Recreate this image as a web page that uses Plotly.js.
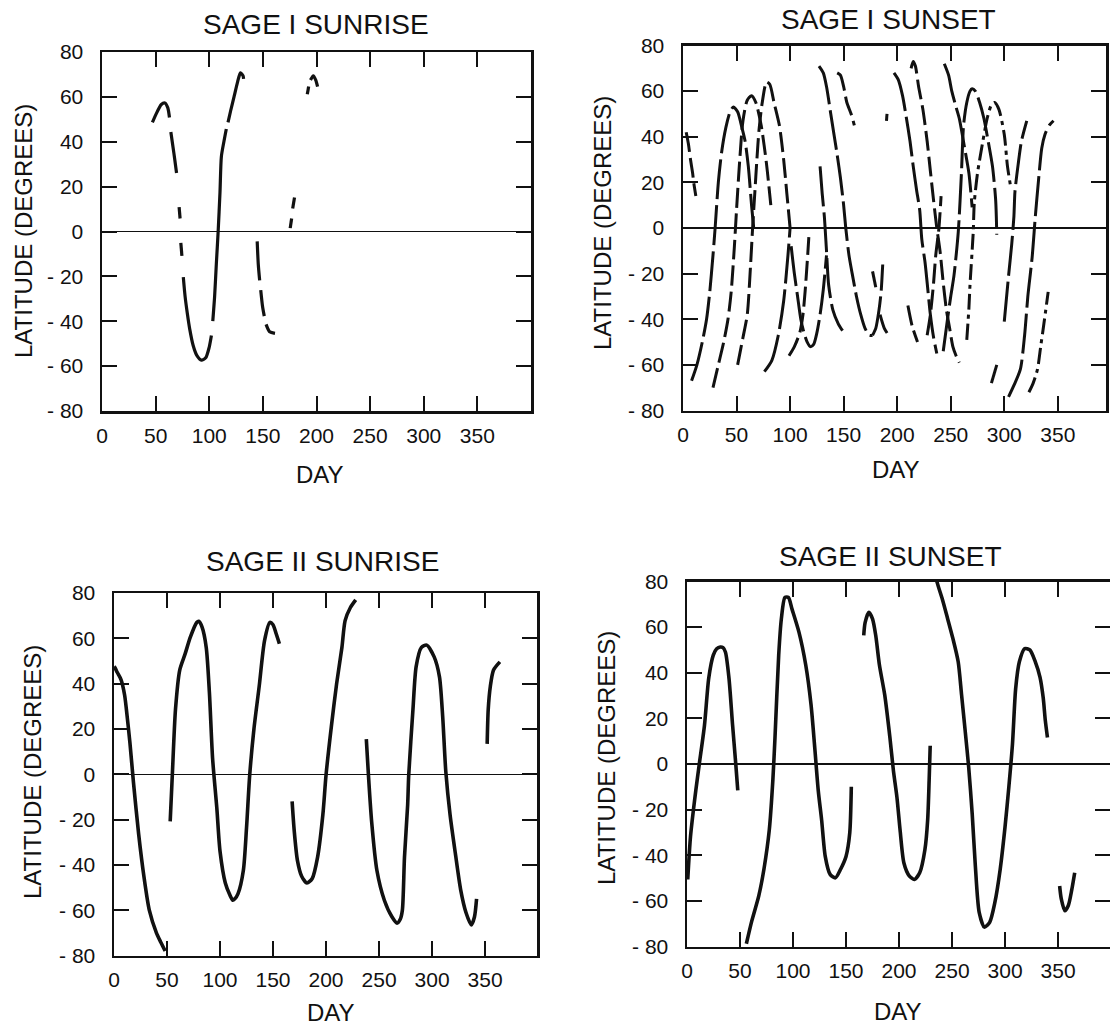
<!DOCTYPE html>
<html>
<head>
<meta charset="utf-8">
<script src="https://cdn.plot.ly/plotly-3.0.1.min.js"></script>
<style>
  html, body { margin: 0; padding: 0; background: #ffffff; }
  #chart { width: 1110px; height: 1027px; }
</style>
</head>
<body>
<div id="chart"></div>
<script>
// ---------------- DATA ----------------
const panelTitles = ["SAGE I SUNRISE", "SAGE I SUNSET", "SAGE II SUNRISE", "SAGE II SUNSET"];
const xTickVals = [0, 50, 100, 150, 200, 250, 300, 350];
const xTickText = ["0", "50", "100", "150", "200", "250", "300", "350"];
const yTickVals = [-80, -60, -40, -20, 0, 20, 40, 60, 80];
const yTickText = ["- 80", "- 60", "- 40", "- 20", "0", "20", "40", "60", "80"];
const xTitle = "DAY";
const yTitle = "LATITUDE (DEGREES)";

// SAGE I SUNRISE (null = gap in the drawn track)
const sage1RiseDays = [
  [47, 50.3, 55.3, 58.6, 61.3, 62.9, null, 64.2, 66.2, 67.9, 69.5, null, 71.9, 72.8, null, 73.5, 74.5, null,
   75.8, 77.5, 79.5, 81.8, 85, 88.4, 92.7, 96.7, 100, 102, null, 103.3, 105, 106.6, 108.3, 110, 111.3, 113.6, 115.9, null,
   117.5, 119.9, 123.2, 126.5, 129.1, 131.5, 132],
  [144.7, 145.7, 147, null, 148, 149.7, 151.3, null, 153, 156.3, 161.3],
  [175.5, 176.8, null, 177.8, 179.5],
  [191.4, 192.7, null, 194.4, 197, 199.3, 201]
];
const sage1RiseLats = [
  [48.6, 52.2, 56.6, 57.3, 55.2, 50.8, null, 44.3, 37.7, 31.9, 26.1, null, 10.9, 5.8, null, -5.1, -10.9, null,
   -20.3, -29, -36.3, -43.5, -50.8, -55.2, -57.3, -56.3, -51.5, -46.4, null, -39.9, -29, -14.5, 0, 17.4, 33.4, 39.9, 45.7, null,
   48.6, 53.7, 60.2, 66.8, 70.7, 69.4, 68],
  [-4.4, -14.5, -21.8, null, -26.1, -33.4, -37.7, null, -41.4, -44.7, -45.4],
  [1.5, 5.8, null, 10.2, 15.2],
  [61.2, 64.6, null, 67.5, 69.4, 67.5, 64.6]
];

// SAGE I SUNSET tracks
const sage1SetDays = [
  [3, 5, 7, 9, 10, 12],
  [8, 13, 18, 22, 25, 28, 30, 33, 36, 40, 44, 47, 51, 55, 58, 61, 64, 66],
  [28, 33, 38, 42, 45, 48, 50, 53, 56, 60, 64, 68, 73, 78, 82],
  [51, 56, 60, 63, 65, 67, 69, 71, 74, 78, 81, 85, 90, 94, 97, 100],
  [76, 83, 89, 94, 98, 100],
  [101, 104, 107, 110, 113, 116, 119, 122, 125, 128, 131, 134],
  [99, 104, 109, 112, 114, 116, 117.5],
  [128, 130, 132, 134, 136, 140, 145, 149],
  [127, 131, 134, 138, 141, 144, 147, 150, 152, 155, 158, 162, 166, 170, 174, 177],
  [144, 147, 150, 153, 157, 160],
  [177, 180, 183, 185, 186.5],
  [184, 188, 192],
  [177, 180],
  [190, 190.5],
  [197, 201, 205, 208, 212, 215, 218, 221, 223, 226, 228, 231, 234, 237],
  [213, 215, 217, 220, 224, 228, 231, 234, 237, 240, 243, 246, 249, 252, 255, 258],
  [244, 248, 251, 255, 258, 263, 267, 270],
  [243, 247, 250, 253, 257, 260, 262, 265, 268, 270, 273, 277, 281, 285, 289, 292, 293],
  [265, 267, 268, 271, 272, 275, 280, 284, 288, 291, 295, 300, 303, 306],
  [300, 304, 307, 309, 310, 313, 316, 321],
  [304, 309, 315, 319, 322, 326, 329, 332, 335, 338, 342, 346],
  [323, 327, 331, 334, 337, 341],
  [288, 293],
  [210, 214, 219],
  [228, 231, 234, 236, 239, 241]
];
const sage1SetLats = [
  [42, 37, 30, 24, 20, 14],
  [-67, -60, -50, -40, -28, -12, 0, 20, 33, 44, 51, 53, 51, 44, 38, 27, 10, 0],
  [-70, -60, -50, -40, -28, -8, 8, 30, 47, 56, 58, 55, 45, 28, 10],
  [-60, -48, -38, -17, 0, 15, 30, 43, 55, 64, 63, 55, 45, 30, 15, 0],
  [-63, -58, -47, -32, -12, 0],
  [-8, -20, -30, -40, -46, -50, -52, -51, -46, -38, -27, -12],
  [-56, -52, -46, -38, -28, -15, -4],
  [27, 15, 5, -10, -25, -36, -42, -45],
  [71, 68, 62, 50, 41, 32, 22, 10, 0, -12, -20, -30, -38, -44, -47, -47],
  [68, 67, 62, 55, 50, 45],
  [-47, -44, -36, -28, -16],
  [-38, -44, -47],
  [-19, -26],
  [47, 50],
  [68, 65, 58, 50, 38, 27, 17, 8, -5, -15, -24, -38, -48, -55],
  [70, 73, 71, 62, 52, 38, 25, 12, 0, -10, -24, -36, -44, -52, -56, -59],
  [72, 67, 60, 53, 48, 35, 24, 9],
  [-54, -40, -30, -21, -2, 24, 45, 55, 60, 61, 60, 55, 48, 38, 27, 12, -3],
  [-49, -35, -25, -2, 11, 24, 38, 48, 54, 55, 52, 41, 27, 18],
  [-41, -21, -7, 5, 16, 28, 38, 47],
  [-74, -69, -62, -47, -30, -13, 5, 21, 35, 41, 45, 47],
  [-72, -68, -62, -52, -42, -28],
  [-68, -60],
  [-34, -43, -50],
  [-47, -38, -24, -12, 0, 14]
];
const sage1SetKind = ["d", "l", "d", "d", "l", "l", "d", "l", "l", "d", "l", "d", "d", "l",
                      "l", "d", "l", "l", "dd", "l", "l", "dd", "d", "d", "d"];

// SAGE II SUNRISE
const sage2RiseDays = [
  [0, 1, 3, 6.7, 10, 11.7, 15, 18.3, 23.3, 28.3, 33.3, 40, 44, 48.3],
  [53, 55, 58, 62, 67, 72, 78, 80, 83, 87, 90, 93, 97, 100, 105, 109, 112, 114, 117, 122, 125, 128, 132, 137, 142, 147, 150, 153, 156],
  [168, 170, 173, 177, 182, 187, 192, 197, 200, 205, 210, 215, 218, 223, 228],
  [238, 240, 243, 248, 255, 262, 267, 270, 272, 274, 277, 278, 282, 285, 290, 295, 302, 307, 310, 313, 317, 322, 327, 332, 337, 340, 342],
  [352, 353, 355, 358, 364]
];
const sage2RiseLats = [
  [47.5, 47, 45, 41.7, 35, 28.6, 14, -3.3, -26.6, -45.4, -60, -70, -74, -78],
  [-20.8, -0.4, 28.6, 46, 53, 60.5, 67, 67.5, 65, 56, 36, 7, -15, -34, -48, -53, -55.6, -55, -52.7, -42.5, -23.7, -0.4, 20, 39, 59, 67, 66, 62, 57.6],
  [-12, -25, -38, -45, -48, -46, -36.7, -17.9, -0.4, 21, 40, 56, 67.8, 73.6, 77],
  [15.5, -0.4, -20.8, -42.5, -55.6, -62.8, -65.7, -64, -60, -36.7, -13.5, -0.4, 28.6, 47.5, 56, 57, 51.8, 43, 25.7, 1, -17.9, -35, -51, -61, -66.5, -63, -55],
  [13.4, 28.6, 38.8, 46, 49.6]
];

// SAGE II SUNSET
const sage2SetDays = [
  [0.7, 3.3, 8.3, 11.6, 16.5, 20.5, 24.8, 28, 31.4, 34, 36.3, 39.6, 43, 46, 47.9],
  [56, 61, 67.7, 72.6, 77.6, 81, 83, 86.5, 89, 92.4, 95.7, 99, 105.6, 112, 117, 120.5, 123.8, 127, 130.4, 135, 140, 145, 150, 153.5, 155],
  [166.7, 168, 171.6, 175, 178, 181.5, 186.5, 191.4, 194.7, 198, 201, 204.6, 209.6, 214.5, 219.5, 224.4, 227, 228.4, 229.4],
  [234, 236, 241, 245.9, 250.8, 255.8, 259, 262.4, 265.7, 269, 272, 275.6, 280.5, 285.5, 290.4, 295.4, 300, 303.6, 307, 310, 313.5, 318.5, 323.4, 328.4, 333, 336, 338, 340],
  [351.5, 353, 356.4, 359.7, 363, 365.7]
];
const sage2SetLats = [
  [-50.6, -31.8, -11.6, 0, 17, 37.6, 47.7, 50.5, 51.3, 51, 49, 37.6, 17, 0, -11.6],
  [-78.8, -69, -57.8, -46, -29, -7, 11.6, 47.7, 63.6, 73, 73, 68, 57.8, 43.4, 26, 7.2, -11.6, -24.6, -40.5, -48.4, -49.9, -46, -40.5, -30.3, -10],
  [56.4, 62, 66.5, 63.6, 56.4, 43.4, 30.3, 11.6, -2.9, -14.5, -29, -43.4, -49, -50.6, -47.7, -37.6, -24.6, -7.2, 8],
  [84, 79.5, 72, 63.6, 55, 44.8, 30.3, 14.5, -1.4, -21.7, -44.8, -65, -71.5, -69.4, -60.7, -46.2, -27.5, -10, 8.7, 33, 44.8, 50.6, 50, 45, 38, 29, 19, 11.6],
  [-53.5, -59, -64.3, -62, -55, -47.7]
];

// ---------------- LAYOUT / STYLE ----------------
const W = 1110, H = 1027;
const INK = "#111111";
const FONT = "Liberation Sans, Arial, Helvetica, sans-serif";
const px = v => v / W;
const py = v => 1 - v / H;

// plot boxes in pixels: [left, right, top, bottom], x range max
const boxes = [
  { l: 102, r: 531, t: 52, b: 411, xmax: 400 },
  { l: 683, r: 1106, t: 45.5, b: 410.5, xmax: 395 },
  { l: 114, r: 537, t: 593, b: 955.5, xmax: 399 },
  { l: 687, r: 1110, t: 581.5, b: 946.5, xmax: 399 }
];

const dashMap = { l: "40px,6px", d: "20px,6px", dd: "16px,5px,4px,5px" };

const traces = [];
function addTracks(daysList, latsList, axisIdx, width, kinds, defaultDash) {
  const xa = axisIdx === 1 ? "x" : "x" + axisIdx;
  const ya = axisIdx === 1 ? "y" : "y" + axisIdx;
  daysList.forEach((d, i) => {
    traces.push({
      type: "scatter", mode: "lines", x: d, y: latsList[i], xaxis: xa, yaxis: ya,
      connectgaps: false, hoverinfo: "skip",
      line: { color: INK, width: width, shape: "spline", smoothing: 0.7,
              dash: kinds ? dashMap[kinds[i]] : defaultDash }
    });
  });
}
addTracks(sage1RiseDays, sage1RiseLats, 1, 3.2, null, "solid");
addTracks(sage1SetDays, sage1SetLats, 2, 3, sage1SetKind, null);
addTracks(sage2RiseDays, sage2RiseLats, 3, 3.6, null, "solid");
addTracks(sage2SetDays, sage2SetLats, 4, 3.6, null, "solid");

const layout = {
  width: W, height: H,
  margin: { l: 0, r: 0, t: 0, b: 0 },
  paper_bgcolor: "#ffffff", plot_bgcolor: "#ffffff",
  showlegend: false,
  font: { family: FONT, color: INK, size: 21 },
  annotations: []
};

const titlePos = [[316, 24], [888, 20], [322, 561], [890, 556]];
const dayPos = [[320, 474], [896, 470], [331, 1012], [898, 1011]];
const latPos = [[23, 231], [602, 223], [32, 772], [606, 758]];

boxes.forEach((bx, i) => {
  const n = i === 0 ? "" : String(i + 1);
  layout["xaxis" + n] = {
    domain: [px(bx.l), px(bx.r)], range: [0, bx.xmax], anchor: "y" + n,
    tickmode: "array", tickvals: xTickVals, ticktext: xTickText,
    ticks: "inside", ticklen: 15, tickwidth: 2, tickcolor: INK,
    showline: true, linewidth: 2.5, linecolor: INK, mirror: "ticks",
    showgrid: false, zeroline: false, fixedrange: true,
    tickfont: { family: FONT, size: 21, color: INK }, ticklabelstandoff: 4
  };
  layout["yaxis" + n] = {
    domain: [py(bx.b), py(bx.t)], range: [-80, 80], anchor: "x" + n,
    tickmode: "array", tickvals: yTickVals, ticktext: yTickText,
    ticks: "inside", ticklen: 15, tickwidth: 2, tickcolor: INK,
    showline: true, linewidth: 2.5, linecolor: INK, mirror: "ticks",
    showgrid: false, zeroline: true, zerolinecolor: INK, zerolinewidth: 1.5,
    fixedrange: true,
    tickfont: { family: FONT, size: 21, color: INK }, ticklabelstandoff: 12
  };
  layout.annotations.push({
    text: panelTitles[i], xref: "paper", yref: "paper",
    x: px(titlePos[i][0]), y: py(titlePos[i][1]), xanchor: "center", yanchor: "middle",
    showarrow: false, font: { family: FONT, size: 28, color: INK }
  });
  layout.annotations.push({
    text: xTitle, xref: "paper", yref: "paper",
    x: px(dayPos[i][0]), y: py(dayPos[i][1]), xanchor: "center", yanchor: "middle",
    showarrow: false, font: { family: FONT, size: 24, color: INK }
  });
  layout.annotations.push({
    text: yTitle, xref: "paper", yref: "paper", textangle: -90,
    x: px(latPos[i][0]), y: py(latPos[i][1]), xanchor: "center", yanchor: "middle",
    showarrow: false, font: { family: FONT, size: 24, color: INK }
  });
});

Plotly.newPlot("chart", traces, layout, { staticPlot: true, displayModeBar: false });
</script>
</body>
</html>
